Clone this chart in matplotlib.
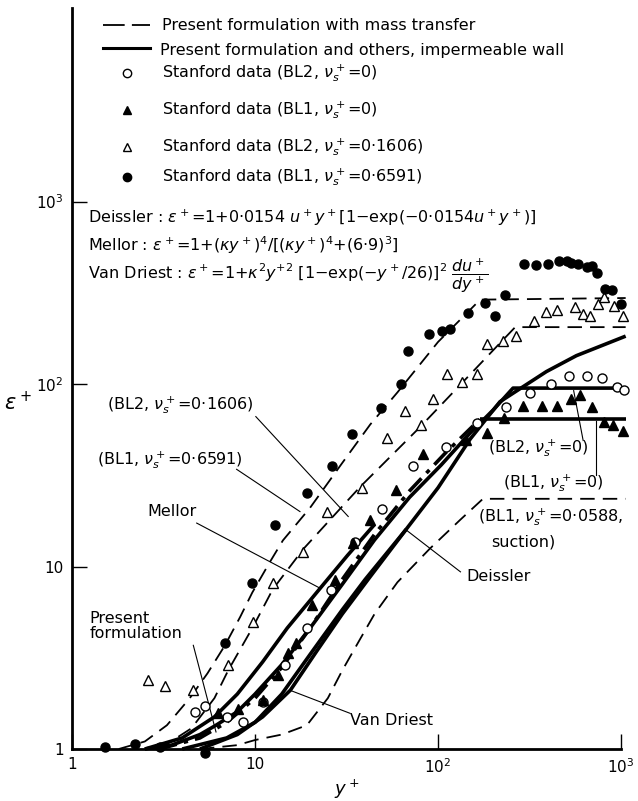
import matplotlib
matplotlib.use("Agg")
import matplotlib.pyplot as plt
from matplotlib.lines import Line2D

plt.rcParams['font.family'] = ['DejaVu Sans']
plt.rcParams['mathtext.fontset'] = 'dejavusans'

# ---------------- Stanford data ----------------
bl2_v0_x = [4.7, 5.33, 7.0, 8.57, 11.1, 14.6, 19.2, 26.0, 35.2, 49.2, 73.3, 110, 164, 235, 317, 415, 521, 648, 785, 948, 1040]
bl2_v0_y = [1.60, 1.71, 1.49, 1.41, 1.82, 2.89, 4.58, 7.44, 13.7, 20.6, 35.6, 45, 61.5, 75, 89, 100, 110, 110, 108, 96, 92.5]

bl1_v0_x = [6.25, 8.05, 11.1, 13.4, 15.2, 16.7, 20.6, 27.4, 34.4, 42.6, 58.9, 83.0, 143, 185, 229, 290, 368, 445, 530, 595, 697, 809, 906, 1023]
bl1_v0_y = [1.57, 1.65, 1.86, 2.54, 3.34, 3.83, 6.16, 8.43, 13.4, 18.0, 26.1, 41.5, 49.2, 54.2, 65, 75.9, 75.9, 75.9, 82.5, 87.3, 75, 62.1, 59.5, 55.5]

bl2_v1606_x = [2.61, 3.22, 4.6, 7.14, 9.78, 12.5, 18.4, 24.6, 38.5, 52.5, 66.1, 80.9, 94.4, 112, 135, 163, 185, 226, 268, 333, 389, 449, 562, 617, 676, 750, 809, 915, 1025]
bl2_v1606_y = [2.39, 2.22, 2.1, 2.89, 4.98, 8.09, 12.0, 20.0, 26.8, 50.4, 71.5, 59.5, 82.5, 113, 103, 113, 165, 172, 183, 222, 249, 254, 265, 241, 236, 276, 298, 268, 236]

bl1_v6591_x = [1.51, 2.21, 3.03, 5.34, 6.85, 9.66, 12.9, 19.3, 26.3, 34.0, 48.6, 62.8, 68.7, 88.9, 105, 116.5, 146, 181, 204, 232,
               296, 343, 401, 461, 508, 532, 585, 648, 694, 740, 817, 889, 994]
bl1_v6591_y = [1.025, 1.065, 1.025, 0.95, 3.81, 8.15, 16.9, 25.2, 35.6, 53.5, 73.7, 100, 152, 188, 196, 199, 246, 279, 236, 307,
               455, 448, 455, 472, 472, 463, 455, 440, 445, 405, 330, 327, 274]

# ---------------- Present formulation with mass transfer ----------------
mt_6591_x = [1.8, 2.5, 3.3, 4.4, 5.5, 6.85, 8.3, 9.66, 12, 14.2, 20, 30, 42.6, 60, 100, 170, 1060]
mt_6591_y = [1.0, 1.1, 1.35, 1.9, 2.6, 3.7, 5.3, 7.2, 10.5, 13.9, 21, 37, 60, 90, 170, 290, 296]

mt_1606_x = [3.0, 4.5, 6.0, 7.14, 9.78, 12.5, 18.4, 25, 37.5, 79.6, 264, 1060]
mt_1606_y = [1.0, 1.3, 1.9, 2.7, 4.7, 7.5, 12.5, 17.5, 27.3, 58, 205, 205]

mt_0588_x = [5.0, 8.0, 10, 14, 19.2, 25, 30, 37.5, 45, 60, 90, 132, 176, 1060]
mt_0588_y = [1.0, 1.05, 1.12, 1.2, 1.35, 1.9, 2.7, 4.0, 5.5, 8.2, 12.5, 18, 23.5, 23.5]

# ---------------- Impermeable wall ----------------
pf_bl2_x = [2.5, 3.5, 5, 6.12, 8, 10, 14, 20, 30, 45, 70, 104, 150, 200, 257, 1060]
pf_bl2_y = [1.0, 1.05, 1.2, 1.35, 1.6, 2.0, 2.9, 4.6, 8.0, 14, 24, 36, 54, 72, 95, 95]

pf_bl1_x = [3, 5, 7, 10, 14, 20, 30, 45, 70, 110, 169]
pf_bl1_y = [1.0, 1.15, 1.4, 1.9, 2.8, 4.6, 8.5, 15, 26, 42, 64]
pf_bl1_flat_x = [169, 1060]
pf_bl1_flat_y = [64, 64]

mellor_x = [2.5, 4, 6, 8, 11, 15, 22.7, 32, 45]
mellor_y = [1.0, 1.15, 1.5, 2.0, 3.0, 4.6, 7.6, 11.5, 17]

deissler_x = [4, 7, 10, 14, 20, 30, 40, 67, 100, 150, 218, 391, 570, 1060]
deissler_y = [1.0, 1.15, 1.4, 2.0, 3.3, 5.8, 8.5, 16, 27, 50, 80, 117, 143, 183]

vandriest_x = [5, 8, 11, 15.6, 22, 30, 42.6, 67]
vandriest_y = [1.0, 1.2, 1.5, 2.1, 3.5, 5.5, 8.8, 16]

# ---------------- figure ----------------
fig = plt.figure(figsize=(6.38, 8.01), dpi=100)
ax = fig.add_axes([0.1129, 0.0649, 0.8605, 0.925])
ax.set_xscale('log')
ax.set_yscale('log')
ax.set_xlim(1, 1000)
ax.set_ylim(1, 10 ** 4.06)

for s in ('top', 'right'):
    ax.spines[s].set_visible(False)
for s in ('left', 'bottom'):
    ax.spines[s].set_linewidth(2.0)

ax.set_xticks([1, 10, 100, 1000])
ax.set_xticklabels(['1', '10', r'$10^2$', r'$10^3$'])
ax.set_yticks([1, 10, 100, 1000])
ax.set_yticklabels(['1', '10', r'$10^2$', r'$10^3$'])
ax.minorticks_off()
ax.tick_params(which='major', direction='in', length=11, width=1.0, labelsize=11, pad=6)
fig.text(347 / 638, 1 - 789 / 801, r'$y^+$', fontsize=13, ha='center', va='center')
fig.text(18 / 638, 1 - 402 / 801, r'$\epsilon^+$', fontsize=15, ha='center', va='center')

K = 'black'
dash = (0, (8, 4.5))
thick = 2.6
kw = dict(clip_on=False, solid_capstyle='butt')

# mass transfer curves
for xs, ys in ((mt_6591_x, mt_6591_y), (mt_1606_x, mt_1606_y), (mt_0588_x, mt_0588_y)):
    ax.plot(xs, ys, color=K, lw=1.3, linestyle=dash, **kw)

# impermeable wall curves
ax.plot(pf_bl2_x, pf_bl2_y, color=K, lw=thick, **kw)
ax.plot(pf_bl1_x, pf_bl1_y, color=K, lw=thick, linestyle=(0, (5, 2, 1.2, 2)), **kw)
ax.plot(pf_bl1_flat_x, pf_bl1_flat_y, color=K, lw=thick, **kw)
ax.plot(mellor_x, mellor_y, color=K, lw=thick, **kw)
ax.plot(deissler_x, deissler_y, color=K, lw=thick, **kw)
ax.plot(vandriest_x, vandriest_y, color=K, lw=thick, **kw)

# data markers
ms = 6.5
ax.plot(bl2_v0_x, bl2_v0_y, 'o', mfc='white', mec=K, mew=1.0, ms=ms, ls='none', clip_on=False, zorder=5)
ax.plot(bl1_v0_x, bl1_v0_y, '^', mfc=K, mec=K, ms=ms + 1, ls='none', clip_on=False, zorder=5)
ax.plot(bl2_v1606_x, bl2_v1606_y, '^', mfc='white', mec=K, mew=1.0, ms=ms + 1, ls='none', clip_on=False, zorder=5)
ax.plot(bl1_v6591_x, bl1_v6591_y, 'o', mfc=K, mec=K, ms=ms, ls='none', clip_on=False, zorder=5)

# ---------------- legend block ----------------
fs = 11.5
def fx(px):
    return px / 638.0
def fy(py):
    return 1 - py / 801.0

fig.add_artist(Line2D([fx(103), fx(150)], [fy(25), fy(25)], color=K, lw=1.3, linestyle=(0, (12, 4))))
fig.add_artist(Line2D([fx(103), fx(150)], [fy(48), fy(48)], color=K, lw=2.2))
fig.text(fx(162), fy(25), 'Present formulation with mass transfer', fontsize=fs, va='center')
fig.text(fx(160), fy(50), 'Present formulation and others, impermeable wall', fontsize=fs, va='center')

leg_rows = [
    (73, 'o', 'white', 'Stanford data (BL2, $\\nu_s^+$=0)'),
    (110, '^', K, 'Stanford data (BL1, $\\nu_s^+$=0)'),
    (147, '^', 'white', 'Stanford data (BL2, $\\nu_s^+$=0·1606)'),
    (177, 'o', K, 'Stanford data (BL1, $\\nu_s^+$=0·6591)'),
]
for py, m, fc, label in leg_rows:
    fig.add_artist(Line2D([fx(127)], [fy(py)], marker=m, mfc=fc, mec=K, ms=6, ls='none'))
    fig.text(fx(162), fy(py), label, fontsize=fs, va='center')

fig.text(fx(88), fy(218), r'Deissler : $\epsilon^+$=1+0·0154 $u^+y^+$[1$-$exp($-$0·0154$u^+y^+$)]',
         fontsize=fs, va='center')
fig.text(fx(88), fy(245), r'Mellor : $\epsilon^+$=1+($\kappa y^+$)$^4$/[($\kappa y^+$)$^4$+(6·9)$^3$]',
         fontsize=fs, va='center')
fig.text(fx(88), fy(276), r'Van Driest : $\epsilon^+$=1+$\kappa^2 y^{+2}$ [1$-$exp($-y^+$/26)]$^2$ $\dfrac{du^+}{dy^+}$',
         fontsize=fs, va='center')

# ---------------- curve labels ----------------
lead = dict(color=K, lw=0.8)
def note(text, xy_text, xy_from, xy_to, **tk):
    ax.text(xy_text[0], xy_text[1], text, fontsize=fs, va='center', **tk)
    ax.plot([xy_from[0], xy_to[0]], [xy_from[1], xy_to[1]], clip_on=False, **lead)

note(r'(BL2, $\nu_s^+$=0·1606)', (1.55, 76.7), (10.1, 66.3), (32.3, 18.8))
note(r'(BL1, $\nu_s^+$=0·6591)', (1.37, 38.4), (7.93, 34.1), (17.6, 20.0))
note('Mellor', (2.57, 20.0), (4.8, 17.3), (22.7, 7.6))
note('Present\nformulation', (1.25, 4.7), (4.6, 3.7), (6.12, 1.24), linespacing=1.0)
note('Van Driest', (33, 1.44), (33, 1.57), (15.5, 2.1))
note('Deissler', (142, 8.8), (132.6, 9.35), (67.3, 15.8))
note(r'(BL2, $\nu_s^+$=0)', (187, 44.5), (621, 49), (551, 92))
note(r'(BL1, $\nu_s^+$=0)', (226, 28.7), (734, 31.6), (734, 63))
ax.text(166, 18.7, r'(BL1, $\nu_s^+$=0·0588,', fontsize=fs, va='center', clip_on=False)
ax.text(196, 13.6, 'suction)', fontsize=fs, va='center')

fig.savefig('out.png', dpi=100)
